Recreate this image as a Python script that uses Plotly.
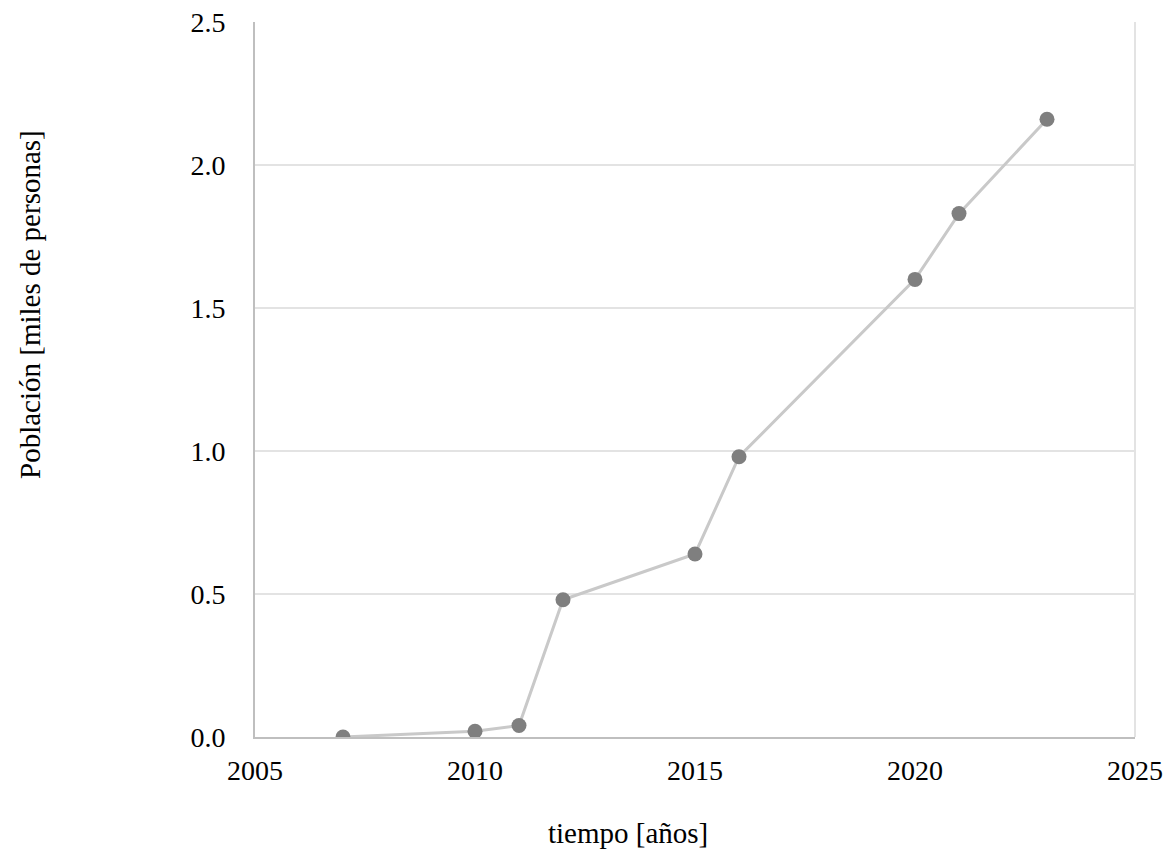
import plotly.graph_objects as go

# Población por año (miles de personas)
anios = [2007, 2010, 2011, 2012, 2015, 2016, 2020, 2021, 2023]
poblacion = [0.0, 0.02, 0.04, 0.48, 0.64, 0.98, 1.60, 1.83, 2.16]

x_ticks = [2005, 2010, 2015, 2020, 2025]
y_ticks = [0.0, 0.5, 1.0, 1.5, 2.0, 2.5]
y_labels = [f"{v:.1f}" for v in y_ticks]

fuente = "Liberation Serif, Times New Roman, serif"

fig = go.Figure()
fig.add_trace(go.Scatter(
    x=anios, y=poblacion, mode="lines+markers",
    line=dict(color="#c9c9c9", width=3),
    marker=dict(color="#7f7f7f", size=15),
    showlegend=False,
))

fig.update_layout(
    width=1171, height=851,
    margin=dict(l=255, r=36, t=22, b=114),
    paper_bgcolor="white", plot_bgcolor="white",
    font=dict(family=fuente, size=28, color="black"),
    xaxis=dict(
        range=[2005, 2025], tickvals=x_ticks, showgrid=False, zeroline=False,
        showline=True, linecolor="#bfbfbf", linewidth=2,
        ticks="", ticklabelstandoff=7, automargin=False,
    ),
    yaxis=dict(
        range=[0, 2.5], tickvals=y_ticks, ticktext=y_labels,
        showgrid=True, gridcolor="#e3e3e3", gridwidth=2, zeroline=False,
        showline=True, linecolor="#bfbfbf", linewidth=2,
        ticks="", ticklabelstandoff=22, automargin=False,
    ),
    shapes=[dict(type="line", xref="x domain", yref="y domain",
                 x0=1, x1=1, y0=0, y1=1,
                 line=dict(color="#e3e3e3", width=2))],
    annotations=[
        dict(text="tiempo [años]", xref="paper", yref="paper",
             x=0.4233, y=-0.1343, xanchor="center", yanchor="middle",
             showarrow=False, font=dict(size=29)),
        dict(text="Población [miles de personas]", xref="paper", yref="paper",
             x=-0.2557, y=0.6056, xanchor="center", yanchor="middle",
             textangle=-90, showarrow=False, font=dict(size=29)),
    ],
)

fig.write_html("out.html")
